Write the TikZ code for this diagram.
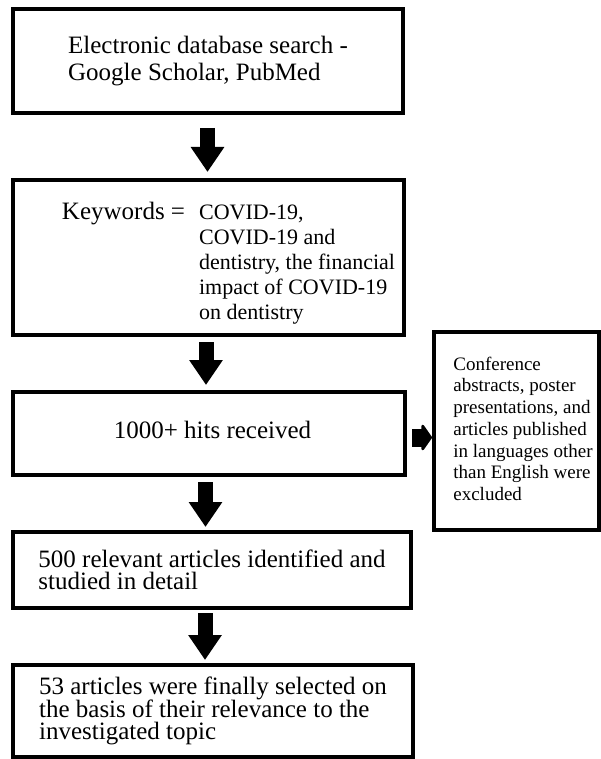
\documentclass[tikz,border=0pt]{standalone}
\usepackage{fontspec}
\setmainfont{Liberation Serif}
\usetikzlibrary{arrows.meta}
\newcommand\fsz[2]{\fontsize{#1}{#2}\selectfont\lineskiplimit=-50pt\relax}
\newcommand\fst[2]{\fontsize{#1}{#2}\selectfont\lineskiplimit=0pt\relax}
\tikzset{
  box/.style={draw, line width=4.5pt, inner sep=0pt, outer sep=0pt, align=left, font=\fsz{25pt}{27pt}},
  exclbox/.style={draw, line width=3.5pt, inner sep=0pt, outer sep=0pt, font=\fst{19pt}{21.67pt}},
  bigarrow/.style={line width=15pt, -{Triangle[width=32pt,length=25pt]}},
  sidearrow/.style={line width=18pt, -{Triangle[width=31pt,length=11pt,round]}},
}
\begin{document}
\begin{tikzpicture}[x=1pt,y=-1pt]
\fill[white] (0,0) rectangle (600,759);
\useasboundingbox (0,0) rectangle (600,759);

\node[box, minimum width=390pt, minimum height=104pt] (b1) at (208,61)
  {Electronic database search -\\Google Scholar, PubMed};

\node[box, minimum width=391pt, minimum height=155pt] (b2) at (208.5,257.5)
  {\hspace*{40pt}\rule{0pt}{32pt}Keywords =\hspace{14pt}{\fst{22pt}{25pt}\begin{tabular}[t]{@{}l@{}}COVID-19,\tabularnewline COVID-19 and\tabularnewline dentistry, the financial\tabularnewline impact of COVID-19\tabularnewline on dentistry\end{tabular}}};

\node[box, minimum width=392pt, minimum height=83pt] (b3) at (209,433.5)
  {\hspace*{7pt}1000+ hits received\rule[-8pt]{0pt}{8pt}};

\node[box, minimum width=398pt, minimum height=76pt, font=\fsz{25pt}{22pt}] (b4) at (212,570)
  {500 relevant articles identified and\\studied in detail};

\node[box, minimum width=400pt, minimum height=92pt, font=\fsz{25pt}{22.5pt}] (b5) at (213,711)
  {53 articles were finally selected on\\the basis of their relevance to the\\investigated topic};

\node[exclbox, minimum width=165pt, minimum height=198pt] (excl) at (516.5,431)
  {\hspace*{13pt}\begin{tabular}{@{}l@{}}Conference\tabularnewline abstracts, poster\tabularnewline presentations, and\tabularnewline articles published\tabularnewline in languages other\tabularnewline than English were\tabularnewline excluded\end{tabular}};

\coordinate (ax1) at (207.5,0);
\coordinate (ax2) at (206,0);
\coordinate (ax3) at (205.5,0);
\coordinate (ax4) at (205,0);
\coordinate (sy) at (0,437.5);

\draw[bigarrow, shorten <=15pt, shorten >=8pt] (b1.south -| ax1) -- (b2.north -| ax1);
\draw[bigarrow, shorten <=7pt, shorten >=7pt] (b2.south -| ax2) -- (b3.north -| ax2);
\draw[bigarrow, shorten <=7pt, shorten >=5pt] (b3.south -| ax3) -- (b4.north -| ax3);
\draw[bigarrow, shorten <=5pt, shorten >=5pt] (b4.south -| ax4) -- (b5.north -| ax4);
\draw[sidearrow, shorten <=7pt, shorten >=2pt] (b3.east |- sy) -- (excl.west |- sy);
\end{tikzpicture}
\end{document}
